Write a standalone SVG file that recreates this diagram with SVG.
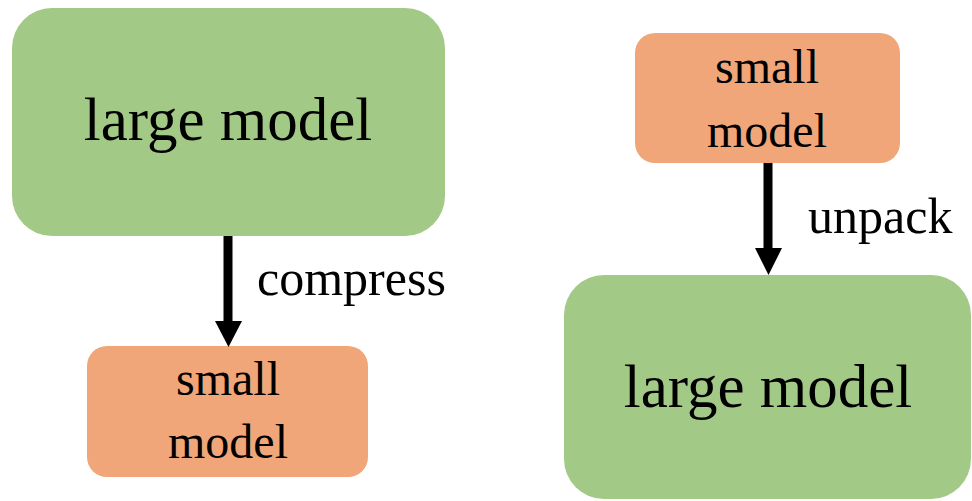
<svg xmlns="http://www.w3.org/2000/svg" width="972" height="501" viewBox="0 0 972 501">
<style>
.large{fill:#a2c985}
.small{fill:#f0a678}
text{font-family:"Liberation Serif","Times New Roman",serif;fill:#000;text-anchor:middle}
.big{font-size:61px}
.mid{font-size:48px}
.lbl{font-size:50px;text-anchor:start}
.conn{stroke:#000;stroke-width:9;fill:none}
.head{fill:#000}
</style>
<rect width="972" height="501" fill="#fff"/>
<g id="large-left">
<rect class="large" x="12" y="8" width="433" height="228" rx="40"/>
<text class="big" x="228" y="140">large model</text>
</g>
<g id="small-left">
<rect class="small" x="87" y="346" width="281" height="131" rx="20"/>
<text class="mid" x="228" y="395">small</text>
<text class="mid" x="228" y="458">model</text>
</g>
<g id="small-right">
<rect class="small" x="635" y="33" width="265" height="130" rx="20"/>
<text class="mid" x="767" y="83">small</text>
<text class="mid" x="767" y="147">model</text>
</g>
<g id="large-right">
<rect class="large" x="564" y="275" width="407" height="224" rx="40"/>
<text class="big" x="768" y="407">large model</text>
</g>
<g id="connectors">
<line class="conn" x1="228" y1="236" x2="228" y2="322"/>
<polygon class="head" points="215,321 242,321 228.5,347"/>
<text class="lbl" x="257" y="295">compress</text>
<line class="conn" x1="768" y1="163" x2="768" y2="249"/>
<polygon class="head" points="755,248 782,248 768.5,275"/>
<text class="lbl" x="808" y="233">unpack</text>
</g>
</svg>
